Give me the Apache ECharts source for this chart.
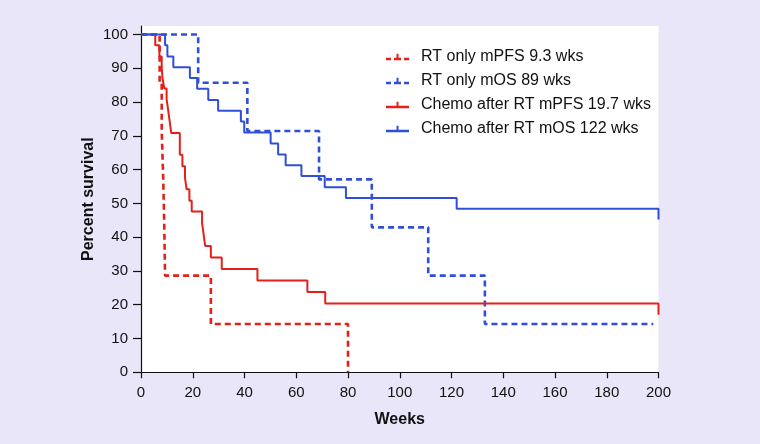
<!DOCTYPE html>
<html>
<head>
<meta charset="utf-8">
<script src="https://cdn.jsdelivr.net/npm/echarts@6/dist/echarts.min.js"></script>
<style>
html,body{margin:0;padding:0;background:#e8e6f8;}
#chart{width:760px;height:444px;}
</style>
</head>
<body>
<div id="chart"></div>
<script>
// ---- Data ----
const seriesNames = [
  'RT only mPFS 9.3 wks',
  'RT only mOS 89 wks',
  'Chemo after RT mPFS 19.7 wks',
  'Chemo after RT mOS 122 wks'
];
const xTicks = [0, 20, 40, 60, 80, 100, 120, 140, 160, 180, 200];
const yTicks = [0, 10, 20, 30, 40, 50, 60, 70, 80, 90, 100];

const weeksRtPfs = [0, 7.2, 8.0, 8.6, 9.0, 9.3, 27.0, 80.0];
const survRtPfs  = [100, 85.7, 71.4, 57.1, 42.9, 28.6, 14.3, 0];

const weeksRtOs = [0, 22.1, 41.1, 68.8, 89.2, 111.0, 132.9, 198];
const survRtOs  = [100, 85.7, 71.4, 57.1, 42.9, 28.6, 14.3, 14.3];

const weeksChemoPfs = [0, 5.5, 7.1, 8.0, 8.3, 9.0, 9.9, 10.5, 11.1, 11.7, 15.0, 16.0, 17.0, 17.6, 18.7, 19.6, 23.6, 24.2, 24.8, 27.0, 31.2, 45.0, 64.3, 71.2, 200, 200];
const survChemoPfs  = [100, 96.8, 93.5, 90.3, 87.1, 84.0, 80.8, 77.6, 74.2, 70.8, 64.4, 61.0, 57.6, 54.2, 50.8, 47.6, 44.2, 40.8, 37.4, 34.0, 30.6, 27.2, 23.8, 20.4, 20.4, 17.0];

const weeksChemoOs = [0, 9.3, 10.2, 12.5, 18.9, 21.7, 26.0, 29.8, 38.6, 39.9, 50.1, 53.0, 55.9, 62.0, 71.0, 79.2, 122.0, 200, 200];
const survChemoOs  = [100, 96.8, 93.5, 90.3, 87.1, 83.9, 80.6, 77.4, 74.2, 71.0, 67.7, 64.5, 61.3, 58.1, 54.8, 51.6, 48.4, 48.4, 45.2];

// ---- Build chart ----
const RED = '#e32119';
const BLUE = '#2f4fd8';
const FONT = '"Liberation Sans", Arial, sans-serif';

// legend glyphs: line with a small censor tick
const ICON_SOLID = 'path://M0,4 L23,4 L23,6.4 L0,6.4 Z M10.5,0 L12.5,0 L12.5,4 L10.5,4 Z';
const ICON_DASHED = 'path://M0,4 L5,4 L5,6.4 L0,6.4 Z M8,4 L15,4 L15,6.4 L8,6.4 Z M10.5,0 L12.5,0 L12.5,4 L10.5,4 Z M18,4 L23,4 L23,6.4 L18,6.4 Z';

function pairs(xs, ys) { return xs.map((x, i) => [x, ys[i]]); }

function kmSeries(name, xs, ys, color, dashed) {
  return {
    name: name,
    type: 'line',
    step: 'end',
    data: pairs(xs, ys),
    showSymbol: false,
    symbol: 'none',
    clip: false,
    silent: true,
    animation: false,
    itemStyle: { color: color },
    lineStyle: {
      color: color,
      width: dashed ? 2.6 : 2,
      type: dashed ? [6, 4] : 'solid'
    }
  };
}

const chart = echarts.init(document.getElementById('chart'), null, { renderer: 'canvas' });
chart.setOption({
  backgroundColor: '#e8e6f8',
  animation: false,
  textStyle: { fontFamily: FONT },
  grid: {
    left: 141, right: 101.5, top: 26, bottom: 71.7,
    show: true, backgroundColor: '#ffffff', borderWidth: 0
  },
  legend: {
    orient: 'vertical',
    left: 386, top: 49, padding: 0,
    itemWidth: 23, itemHeight: 6.4, itemGap: 8,
    itemStyle: { borderWidth: 0 },
    textStyle: { fontSize: 16, color: '#111', fontFamily: FONT, padding: [0, 0, 0, 7] },
    data: seriesNames.map((n, i) => ({ name: n, icon: i < 2 ? ICON_DASHED : ICON_SOLID }))
  },
  xAxis: {
    type: 'value', min: 0, max: 200, interval: 20,
    name: 'Weeks', nameLocation: 'middle', nameGap: 39,
    nameTextStyle: { fontSize: 16, fontWeight: 'bold', color: '#111', fontFamily: FONT },
    axisLine: { show: true, lineStyle: { color: '#111', width: 1.2 } },
    axisTick: { show: true, length: 6, lineStyle: { color: '#111', width: 1.2 }, customValues: xTicks },
    axisLabel: { fontSize: 15, color: '#111', margin: 13, customValues: xTicks },
    splitLine: { show: false }
  },
  yAxis: {
    type: 'value', min: 0, max: 102.5,
    name: 'Percent survival', nameLocation: 'middle', nameGap: 44, nameRotate: 90,
    nameMoveOverlap: false,
    nameTextStyle: { fontSize: 16, fontWeight: 'bold', color: '#111', fontFamily: FONT },
    axisLine: { show: true, lineStyle: { color: '#111', width: 1.2 } },
    axisTick: { show: true, length: 8, lineStyle: { color: '#111', width: 1.2 }, customValues: yTicks },
    axisLabel: { fontSize: 15, color: '#111', margin: 13, customValues: yTicks },
    splitLine: { show: false }
  },
  series: [
    kmSeries(seriesNames[0], weeksRtPfs, survRtPfs, RED, true),
    kmSeries(seriesNames[1], weeksRtOs, survRtOs, BLUE, true),
    kmSeries(seriesNames[2], weeksChemoPfs, survChemoPfs, RED, false),
    kmSeries(seriesNames[3], weeksChemoOs, survChemoOs, BLUE, false)
  ]
});
</script>
</body>
</html>
